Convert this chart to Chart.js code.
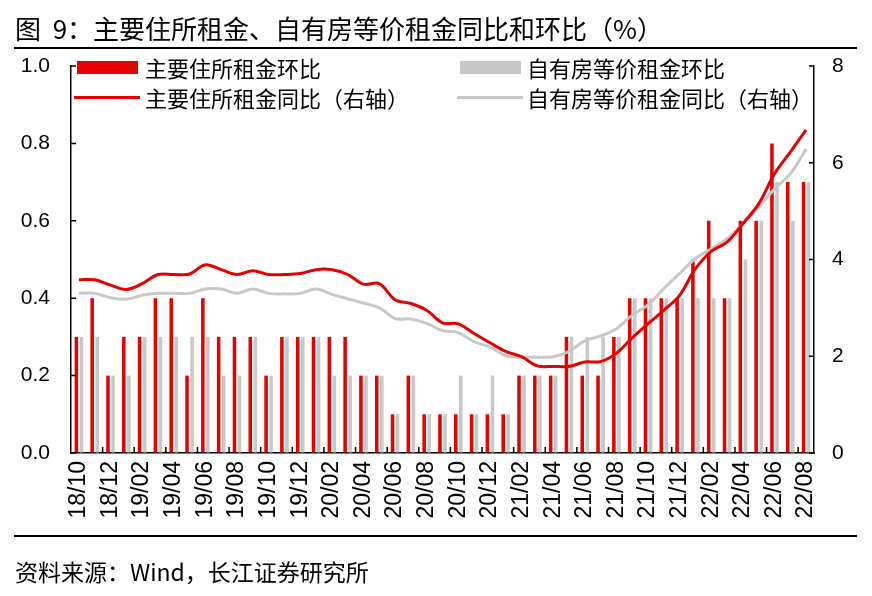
<!DOCTYPE html>
<html lang="zh">
<head>
<meta charset="UTF-8">
<title>图 9：主要住所租金、自有房等价租金同比和环比（%）</title>
<script src="https://cdn.jsdelivr.net/npm/chart.js"></script>
<style>
  html, body { margin: 0; padding: 0; background: #fff; }
  #page { position: relative; width: 872px; height: 596px; overflow: hidden; font-family: "Noto Sans CJK SC", "Liberation Sans", sans-serif; }
  #chartBox { position: absolute; left: 0; top: 0; width: 872px; height: 596px; }
  .txt { position: absolute; white-space: nowrap; color: #000; line-height: 1; }
  .rule { position: absolute; left: 14px; width: 843px; height: 2px; background: #000; }
  .sw { position: absolute; }
</style>
</head>
<body>
<div id="page">
  <div id="chartBox"><canvas id="rentChart"></canvas></div>

  <div class="txt" style="left:15px; top:15px; font-size:26px;">图&nbsp;&nbsp;9：主要住所租金、自有房等价租金同比和环比（%）</div>
  <div class="rule" style="top:47px;"></div>

  <!-- legend -->
  <div class="sw" style="left:77px; top:61px; width:61px; height:13px; background:#e60000;"></div>
  <div class="txt" style="left:145px; top:56px; font-size:22px;">主要住所租金环比</div>
  <div class="sw" style="left:460px; top:61px; width:61px; height:13px; background:#c8c8c8;"></div>
  <div class="txt" style="left:527px; top:56px; font-size:22px;">自有房等价租金环比</div>
  <div class="sw" style="left:74px; top:96px; width:66px; height:3px; background:#e60000;"></div>
  <div class="txt" style="left:145px; top:86px; font-size:22px;">主要住所租金同比（右轴）</div>
  <div class="sw" style="left:457px; top:96px; width:66px; height:3px; background:#c8c8c8;"></div>
  <div class="txt" style="left:527px; top:86px; font-size:22px;">自有房等价租金同比（右轴）</div>

  <div class="rule" style="top:535px;"></div>
  <div class="txt" style="left:15px; top:560px; font-size:23px;">资料来源：Wind，长江证券研究所</div>
</div>

<script>
// months 2018/10 .. 2022/08
var months = ['18/10','18/11','18/12','19/01','19/02','19/03','19/04','19/05','19/06','19/07','19/08','19/09',
              '19/10','19/11','19/12','20/01','20/02','20/03','20/04','20/05','20/06','20/07','20/08','20/09',
              '20/10','20/11','20/12','21/01','21/02','21/03','21/04','21/05','21/06','21/07','21/08','21/09',
              '21/10','21/11','21/12','22/01','22/02','22/03','22/04','22/05','22/06','22/07','22/08'];

// 主要住所租金环比 (left axis, %)
var rentMoM = [0.3,0.4,0.2,0.3,0.3,0.4,0.4,0.2,0.4,0.3,0.3,0.3,
               0.2,0.3,0.3,0.3,0.3,0.3,0.2,0.2,0.1,0.2,0.1,0.1,
               0.1,0.1,0.1,0.1,0.2,0.2,0.2,0.3,0.2,0.2,0.3,0.4,
               0.4,0.4,0.4,0.5,0.6,0.4,0.6,0.6,0.8,0.7,0.7];

// 自有房等价租金环比 (left axis, %)
var oerMoM = [0.3,0.3,0.2,0.2,0.3,0.3,0.3,0.3,0.3,0.2,0.2,0.3,
              0.2,0.3,0.3,0.3,0.2,0.2,0.2,0.2,0.1,0.2,0.1,0.1,
              0.2,0.1,0.2,0.1,0.2,0.2,0.2,0.3,0.3,0.3,0.3,0.4,
              0.4,0.4,0.4,0.4,0.4,0.4,0.5,0.6,0.7,0.6,0.7];

// 主要住所租金同比 (right axis, %)
var rentYoY = [3.58,3.58,3.47,3.38,3.50,3.69,3.69,3.70,3.89,3.79,3.69,3.77,
               3.69,3.69,3.71,3.79,3.79,3.69,3.49,3.50,3.17,3.09,2.95,2.69,
               2.67,2.47,2.28,2.10,1.99,1.80,1.79,1.79,1.88,1.89,2.06,2.38,
               2.67,2.95,3.26,3.81,4.17,4.36,4.74,5.15,5.77,6.22,6.68];

// 自有房等价租金同比 (right axis, %)
var oerYoY = [3.30,3.30,3.21,3.18,3.26,3.30,3.30,3.30,3.39,3.39,3.30,3.39,
              3.30,3.29,3.30,3.39,3.28,3.19,3.10,3.00,2.78,2.77,2.68,2.53,
              2.49,2.30,2.19,2.01,1.98,1.98,1.99,2.10,2.32,2.42,2.57,2.85,
              3.06,3.40,3.71,4.02,4.22,4.43,4.74,5.08,5.46,5.77,6.28];

var leftTicks = [0, 0.2, 0.4, 0.6, 0.8, 1.0];
var rightTicks = [0, 2, 4, 6, 8];

var RED = '#e60000';
var GREY = '#c8c8c8';

// short tick marks pointing into the plot, like the original
var innerTicks = {
    id: 'innerTicks',
    afterDraw: function(chart) {
        var ctx = chart.ctx, a = chart.chartArea;
        var x = chart.scales.x, yl = chart.scales.y, yr = chart.scales.y1;
        ctx.save();
        ctx.strokeStyle = '#000';
        ctx.lineWidth = 1.5;
        ctx.beginPath();
        leftTicks.forEach(function(v) {
            var p = yl.getPixelForValue(v);
            ctx.moveTo(a.left, p); ctx.lineTo(a.left + 5, p);
        });
        rightTicks.forEach(function(v) {
            var p = yr.getPixelForValue(v);
            ctx.moveTo(a.right, p); ctx.lineTo(a.right - 5, p);
        });
        for (var k = 2; k < months.length; k += 2) {
            var px = (x.getPixelForValue(k - 1) + x.getPixelForValue(k)) / 2;
            ctx.moveTo(px, a.bottom); ctx.lineTo(px, a.bottom - 6);
        }
        ctx.stroke();
        ctx.restore();
    }
};

var tickFont = { family: 'Liberation Sans', size: 21 };

new Chart(document.getElementById('rentChart'), {
    type: 'bar',
    data: {
        labels: months,
        datasets: [
            { type: 'line', label: '主要住所租金同比（右轴）', data: rentYoY, yAxisID: 'y1', order: 0,
              borderColor: RED, borderWidth: 3, pointRadius: 0, tension: 0.35, fill: false },
            { type: 'line', label: '自有房等价租金同比（右轴）', data: oerYoY, yAxisID: 'y1', order: 1,
              borderColor: GREY, borderWidth: 3, pointRadius: 0, tension: 0.35, fill: false },
            { label: '主要住所租金环比', data: rentMoM, yAxisID: 'y', order: 2,
              backgroundColor: RED, categoryPercentage: 0.64, barPercentage: 0.7 },
            { label: '自有房等价租金环比', data: oerMoM, yAxisID: 'y', order: 3,
              backgroundColor: GREY, categoryPercentage: 0.64, barPercentage: 0.7 }
        ]
    },
    options: {
        responsive: true,
        maintainAspectRatio: false,
        animation: false,
        layout: { padding: { top: 66, left: 0, right: 0, bottom: 0 } },
        plugins: { legend: { display: false }, tooltip: { enabled: false } },
        scales: {
            x: {
                grid: { display: true, drawOnChartArea: false, drawTicks: false, color: 'rgba(0,0,0,0)' },
                border: { display: true, color: '#000', width: 1.5 },
                ticks: {
                    autoSkip: false, minRotation: 90, maxRotation: 90, padding: 8,
                    color: '#000', font: { family: 'Liberation Sans', size: 23 },
                    callback: function(v, i) { return i % 2 === 0 ? months[i] : ''; }
                },
                afterFit: function(s) { s.height = 143; }
            },
            y: {
                position: 'left', min: 0, max: 1.0,
                grid: { drawOnChartArea: false, drawTicks: false },
                border: { display: true, color: '#000', width: 1.5 },
                ticks: { stepSize: 0.2, padding: 21, color: '#000', font: tickFont,
                         callback: function(v) { return v.toFixed(1); } },
                afterFit: function(s) { s.width = 71; }
            },
            y1: {
                position: 'right', min: 0, max: 8,
                grid: { drawOnChartArea: false, drawTicks: false },
                border: { display: true, color: '#000', width: 1.5 },
                ticks: { stepSize: 2, padding: 18, color: '#000', font: tickFont },
                afterFit: function(s) { s.width = 58; }
            }
        }
    },
    plugins: [innerTicks]
});
</script>
</body>
</html>
